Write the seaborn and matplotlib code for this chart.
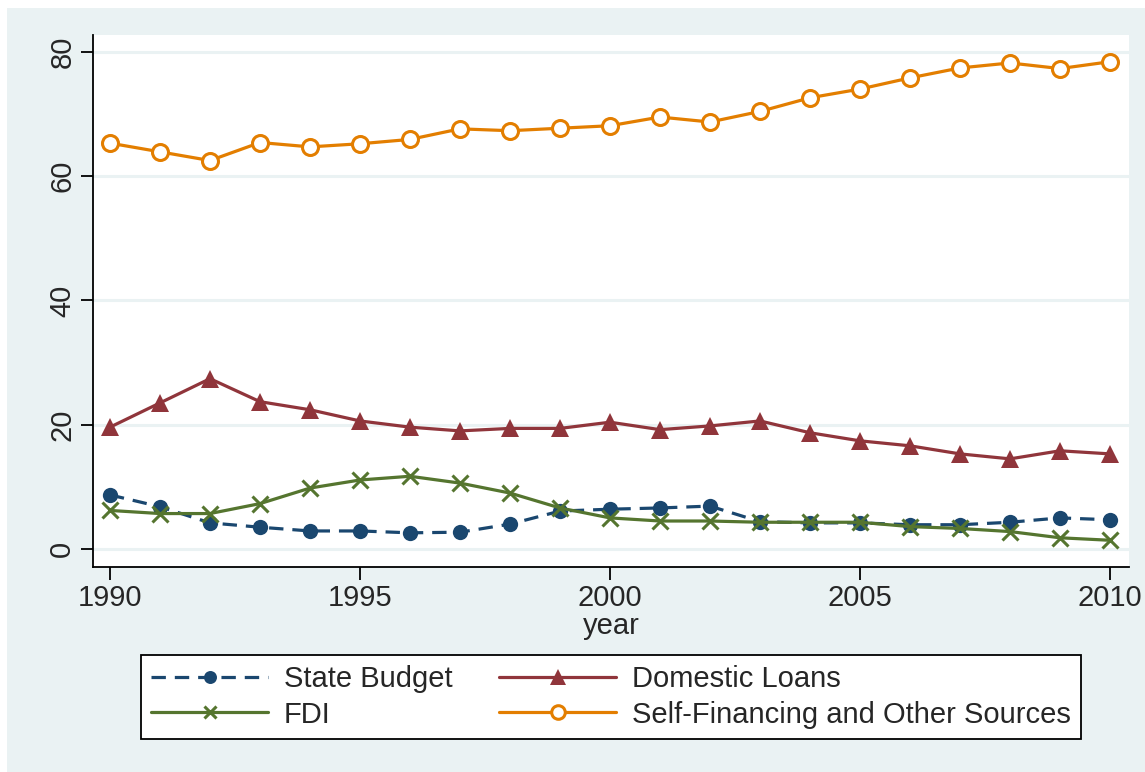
import matplotlib
matplotlib.use("Agg")
import matplotlib.pyplot as plt
from matplotlib.patches import Rectangle
import pandas as pd
import seaborn as sns

years = list(range(1990, 2011))
state_budget = [8.7, 6.8, 4.2, 3.5, 2.9, 2.9, 2.6, 2.7, 4.0, 6.1, 6.4,
                6.6, 6.9, 4.4, 4.2, 4.2, 3.9, 3.9, 4.3, 5.0, 4.7]
domestic_loans = [19.6, 23.5, 27.4, 23.7, 22.4, 20.6, 19.6, 19.0, 19.4, 19.4, 20.4,
                  19.2, 19.8, 20.6, 18.7, 17.4, 16.6, 15.3, 14.5, 15.8, 15.3]
fdi = [6.2, 5.7, 5.7, 7.3, 9.8, 11.1, 11.7, 10.6, 9.0, 6.6, 5.0,
       4.5, 4.5, 4.3, 4.3, 4.3, 3.6, 3.3, 2.8, 1.8, 1.4]
self_financing = [65.3, 63.9, 62.5, 65.4, 64.7, 65.2, 65.9, 67.6, 67.3, 67.7, 68.1,
                  69.5, 68.7, 70.4, 72.6, 74.0, 75.8, 77.4, 78.2, 77.3, 78.4]

series_names = ["State Budget", "Domestic Loans", "FDI", "Self-Financing and Other Sources"]
y_ticks = [0, 20, 40, 60, 80]
x_ticks = [1990, 1995, 2000, 2005, 2010]

BG = "#EAF2F3"
styles = {
    "State Budget": dict(color="#1A476F", marker="o", linestyle=(0, (4.5, 2.8)),
                         markerfacecolor="#1A476F", markeredgecolor="#1A476F",
                         markersize=11, markeredgewidth=0),
    "Domestic Loans": dict(color="#90353B", marker="^", linestyle="-",
                           markerfacecolor="#90353B", markeredgecolor="#90353B",
                           markersize=13.5, markeredgewidth=0),
    "FDI": dict(color="#55752F", marker="x", linestyle="-",
                markeredgecolor="#55752F", markersize=11, markeredgewidth=2.2),
    "Self-Financing and Other Sources": dict(color="#E37E00", marker="o", linestyle="-",
                                             markerfacecolor="white",
                                             markeredgecolor="#E37E00", markersize=11.5,
                                             markeredgewidth=2.2),
}

df = pd.DataFrame({"year": years * 4,
                   "value": state_budget + domestic_loans + fdi + self_financing,
                   "series": sum([[n] * len(years) for n in series_names], [])})

sns.set_theme(style="white")
plt.rcParams["font.family"] = ["Liberation Sans", "DejaVu Sans"]

fig = plt.figure(figsize=(11.45, 7.72), dpi=100, facecolor="white")
fig.patches.append(Rectangle((7 / 1145, 0), 1, (772 - 8) / 772, transform=fig.transFigure,
                             facecolor=BG, edgecolor="none", zorder=-10))
ax = fig.add_axes([93 / 1145, (772 - 567) / 772, (1129 - 93) / 1145, (567 - 35) / 772])
ax.set_facecolor("white")

handles = {}
for name in series_names:
    sub = df[df["series"] == name]
    n_before = len(ax.get_lines())
    sns.lineplot(data=sub, x="year", y="value", ax=ax, linewidth=2.3)
    line = ax.get_lines()[n_before]
    line.set(linewidth=2.3, **styles[name])
    handles[name] = line

ax.set_xlim(1989.66, 2010.38)
ax.set_ylim(-2.9, 82.7)
ax.set_xticks(x_ticks)
ax.set_yticks(y_ticks)
ax.set_yticklabels([str(v) for v in y_ticks], rotation=90, va="center")
ax.tick_params(axis="both", labelsize=21, length=9, width=1.3, color="black",
               direction="out", pad=3, left=True, bottom=True)
ax.grid(axis="y", color=BG, linewidth=2.2)
ax.set_axisbelow(True)
for side in ["top", "right"]:
    ax.spines[side].set_visible(False)
for side in ["left", "bottom"]:
    ax.spines[side].set_color("black")
    ax.spines[side].set_linewidth(1.3)
ax.set_xlabel("year", fontsize=21, labelpad=0)
ax.set_ylabel("")

order = ["State Budget", "FDI", "Domestic Loans", "Self-Financing and Other Sources"]
leg = fig.legend([handles[n] for n in order], order, ncol=2, loc="center",
                 bbox_to_anchor=(611 / 1145, (772 - 697) / 772), fontsize=21,
                 frameon=True, fancybox=False, edgecolor="black", facecolor="white",
                 framealpha=1, handlelength=4.0, handletextpad=0.55, columnspacing=1.6,
                 labelspacing=0.25, borderpad=0.35, markerscale=0.85)
leg.get_frame().set_linewidth(1.3)

fig.savefig("out.png", dpi=100, facecolor=fig.get_facecolor())
